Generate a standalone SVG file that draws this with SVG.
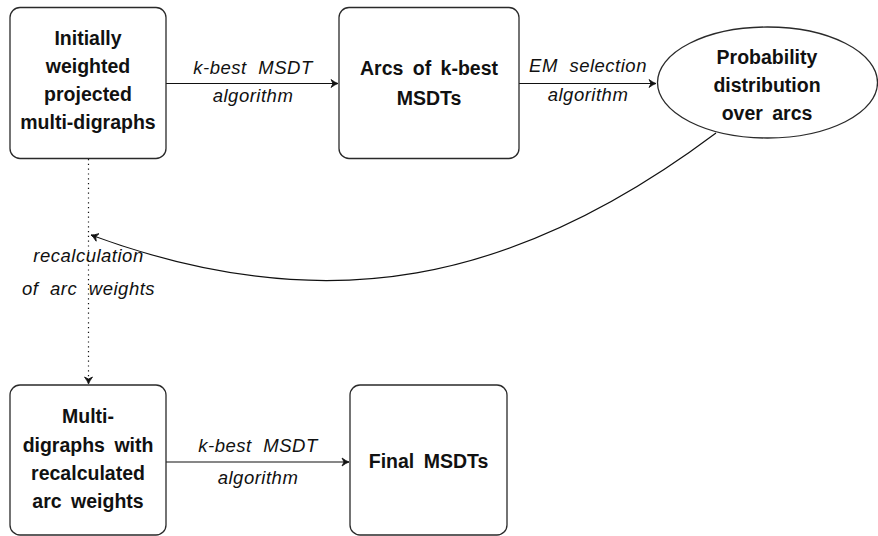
<svg xmlns="http://www.w3.org/2000/svg" width="878" height="536" viewBox="0 0 878 536">
<style>
.box{fill:#fff;stroke:#2a2a2a;stroke-width:1.3}
.nt{font-family:"Liberation Sans",Arial,sans-serif;font-weight:bold;font-size:19.5px;fill:#111;text-anchor:middle;word-spacing:4px}
.lb{font-family:"Liberation Sans",Arial,sans-serif;font-style:italic;font-size:18.5px;fill:#111;text-anchor:middle;letter-spacing:0.5px;word-spacing:6px}
.ln{fill:none;stroke:#111;stroke-width:1.2}
.dot{fill:none;stroke:#111;stroke-width:1.2;stroke-dasharray:1.2 3.6}
</style>
<defs>
<marker id="ah" viewBox="-8 -5 10 10" refX="0" refY="0" markerWidth="10" markerHeight="10" markerUnits="userSpaceOnUse" orient="auto">
<path d="M-7,-4 Q-3,-1 0,0 Q-3,1 -7,4 L-5,0 Z" fill="#111" stroke="#111" stroke-width="0.8" stroke-linejoin="round"/>
</marker>
</defs>
<g id="connectors">
<line class="ln" x1="166" y1="83.5" x2="338" y2="83.5" marker-end="url(#ah)"/>
<line class="ln" x1="519" y1="83.5" x2="656" y2="83.5" marker-end="url(#ah)"/>
<line class="ln" x1="166" y1="462" x2="349" y2="462" marker-end="url(#ah)"/>
<path class="ln" d="M716,133 C516,283 326,322 91,235" marker-end="url(#ah)"/>
<line class="dot" x1="88.5" y1="159" x2="88.5" y2="384" marker-end="url(#ah)"/>
<text class="lb" x="253" y="74">k-best MSDT</text>
<text class="lb" x="253" y="102">algorithm</text>
<text class="lb" x="588" y="72">EM selection</text>
<text class="lb" x="588" y="101">algorithm</text>
<text class="lb" x="258" y="452">k-best MSDT</text>
<text class="lb" x="258" y="484">algorithm</text>
<text class="lb" x="88.5" y="262">recalculation</text>
<text class="lb" x="88.5" y="295">of arc weights</text>
</g>
<g id="n1">
<rect class="box" x="10" y="7.5" width="156" height="151" rx="10"/>
<text class="nt" x="88" y="45">Initially</text>
<text class="nt" x="88" y="73">weighted</text>
<text class="nt" x="88" y="101">projected</text>
<text class="nt" x="88" y="129">multi-digraphs</text>
</g>
<g id="n2">
<rect class="box" x="339" y="7.5" width="180" height="151" rx="10"/>
<text class="nt" x="429" y="75">Arcs of k-best</text>
<text class="nt" x="429" y="105">MSDTs</text>
</g>
<g id="n3">
<ellipse class="box" cx="767.5" cy="82.5" rx="110" ry="55.5"/>
<text class="nt" x="767" y="64">Probability</text>
<text class="nt" x="767" y="92">distribution</text>
<text class="nt" x="767" y="120">over arcs</text>
</g>
<g id="n4">
<rect class="box" x="10" y="385" width="156" height="150" rx="10"/>
<text class="nt" x="88" y="423">Multi-</text>
<text class="nt" x="88" y="452">digraphs with</text>
<text class="nt" x="88" y="480">recalculated</text>
<text class="nt" x="88" y="508">arc weights</text>
</g>
<g id="n5">
<rect class="box" x="350" y="385" width="157" height="150" rx="10"/>
<text class="nt" x="428.5" y="468">Final MSDTs</text>
</g>
</svg>
